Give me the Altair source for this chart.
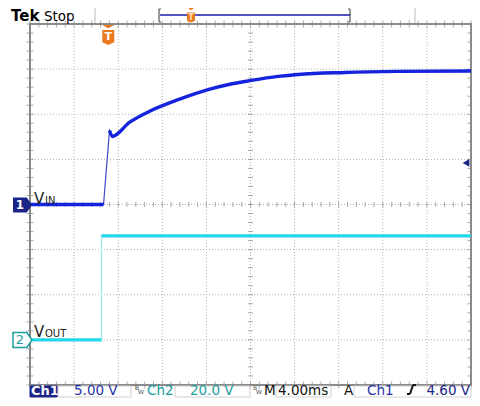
import altair as alt
import pandas as pd

# ---- scope settings (from the status bar) ----
# time base 4.00 ms/div, 10 divisions -> 0..40 ms across the screen
# Ch1 (VIN): 5.00 V/div, ground marker at division 4 from bottom
# Ch2 (VOUT): 20.0 V/div, ground marker at division 1 from bottom
ch1_ground_div = 4
ch2_ground_div = 1
ch1_vdiv = 5.0
ch2_vdiv = 20.0
trigger_level = 4.60
trigger_time = 7.1

# ---- traces ----
vin_t = [0.0, 6.67, 7.21, 7.48, 9.01, 10.81, 13.51, 16.22, 18.02, 20.09, 22.52, 24.32, 28.56, 33.33, 40.0]
vin_v = [0.0, 0.0, 8.20, 7.54, 9.09, 10.31, 11.64, 12.75, 13.30, 13.75, 14.19, 14.41, 14.63, 14.75, 14.80]
vout_t = [0.0, 6.49, 6.49, 40.0]
vout_v = [0.0, 0.0, 46.1, 46.1]

grid_x = [4, 8, 12, 16, 20, 24, 28, 32, 36]
grid_y = [1, 2, 3, 4, 5, 6, 7]
minor_x = [i * 0.8 for i in range(51)]
minor_y = [i * 0.2 for i in range(41)]

vin = pd.DataFrame({"t": vin_t, "v": vin_v, "i": range(len(vin_t))})
vout = pd.DataFrame({"t": vout_t, "v": vout_v, "i": range(len(vout_t))})
one = pd.DataFrame({"k": [0]})

XS = alt.Scale(domain=[0, 40], nice=False, zero=False)
YS = alt.Scale(domain=[0, 8], nice=False, zero=False)
X = alt.X("t:Q", scale=XS, axis=None)
Y = alt.Y("d:Q", scale=YS, axis=None)

BLUE = "#1424dc"
CYAN = "#22d8e8"
NAVY = "#1c2488"
TEAL = "#1e9e9e"
ORANGE = "#ea7a1e"
FONT = "DejaVu Sans"
W = 441
H = 361


def txt(s, x, y, size=13, color="#000", weight="normal", align="left", baseline="alphabetic"):
    return alt.Chart(one).mark_text(text=s, fontSize=size, color=color, fontWeight=weight,
                                    align=align, baseline=baseline, font=FONT).encode(
        x=alt.value(x), y=alt.value(y))


def rule(x1, y1, x2, y2, color="#888", sw=1):
    return alt.Chart(one).mark_rule(color=color, strokeWidth=sw).encode(
        x=alt.value(x1), x2=alt.value(x2), y=alt.value(y1), y2=alt.value(y2))


def box(x1, y1, x2, y2, fill="#ffffff", stroke="#d0d0d0", sw=1):
    return alt.Chart(one).mark_rect(fill=fill, stroke=stroke, strokeWidth=sw).encode(
        x=alt.value(x1), x2=alt.value(x2), y=alt.value(y1), y2=alt.value(y2))


def sym(path, x, y, size, fill=None, stroke=None, sw=1):
    if fill:
        m = alt.Chart(one).mark_point(shape=path, size=size, filled=True, fill=fill,
                                      stroke=stroke or fill, strokeWidth=sw if stroke else 0.01, opacity=1)
    else:
        m = alt.Chart(one).mark_point(shape=path, size=size, filled=False,
                                      stroke=stroke, strokeWidth=sw, opacity=1)
    return m.encode(x=alt.value(x), y=alt.value(y))


# ---- graticule ----
gx = alt.Chart(pd.DataFrame({"t": grid_x})).mark_rule(color="#b0b0b0", strokeDash=[1, 2], strokeWidth=1).encode(x=X)
gy = alt.Chart(pd.DataFrame({"d": grid_y})).mark_rule(color="#b0b0b0", strokeDash=[1, 2], strokeWidth=1).encode(y=Y)
cx = alt.Chart(pd.DataFrame({"t": minor_x, "d": [4] * len(minor_x)})).mark_tick(
    orient="vertical", size=5, thickness=1, color="#888").encode(x=X, y=Y)
cy = alt.Chart(pd.DataFrame({"d": minor_y, "t": [20] * len(minor_y)})).mark_tick(
    orient="horizontal", size=5, thickness=1, color="#888").encode(x=X, y=Y)
bt = alt.Chart(pd.DataFrame({"t": minor_x + minor_x, "d": [8] * len(minor_x) + [0] * len(minor_x)})).mark_tick(
    orient="vertical", size=7, thickness=1, color="#888").encode(x=X, y=Y)
bl = alt.Chart(pd.DataFrame({"d": minor_y + minor_y, "t": [0] * len(minor_y) + [40] * len(minor_y)})).mark_tick(
    orient="horizontal", size=7, thickness=1, color="#888").encode(x=X, y=Y)

# ---- traces ----
vin_base = alt.Chart(vin).transform_calculate(
    d=f"datum.v / {ch1_vdiv} + {ch1_ground_div}",
    seg="datum.t < 7 ? 'a' : 'b'")
vin_thin = vin_base.mark_line(color="#3a48c8", strokeWidth=1.2).encode(x=X, y=Y, order="i:Q")
vin_thick = vin_base.transform_filter("datum.t < 6.7 || datum.t > 7.2").mark_line(
    color=BLUE, strokeWidth=3.4, interpolate="monotone").encode(x=X, y=Y, detail="seg:N", order="i:Q")

vout_base = alt.Chart(vout).transform_calculate(
    d=f"datum.v / {ch2_vdiv} + {ch2_ground_div}",
    seg="datum.i < 2 ? 'a' : 'b'")
vout_thin = vout_base.mark_line(color="#9ae8f0", strokeWidth=1.2).encode(x=X, y=Y, order="i:Q")
vout_thick = vout_base.mark_line(color=CYAN, strokeWidth=3.2).encode(
    x=X, y=Y, detail="seg:N", order="i:Q")

# ---- channel markers ----
arrow = "M-1,-0.79 L0.45,-0.79 L1,0 L0.45,0.79 L-1,0.79 Z"
m1 = sym(arrow, -7.5, 181, 361, fill=NAVY)
m1t = txt("1", -10, 181, size=12, color="#ffffff", weight="bold", align="center", baseline="middle")
m2 = sym(arrow, -7.5, 316, 361, fill="#ffffff", stroke=TEAL, sw=1.5)
m2t = txt("2", -10, 316, size=13, color=TEAL, weight="normal", align="center", baseline="middle")
vin_l1 = txt("V", 4, 180, size=15, color="#222")
vin_l2 = txt("IN", 15, 180, size=10, color="#222")
vout_l1 = txt("V", 4, 313, size=15, color="#222")
vout_l2 = txt("OUT", 15, 313, size=10, color="#222")

# trigger level arrow on the right edge
trig_y = ch1_ground_div + trigger_level / ch1_vdiv
tl = alt.Chart(pd.DataFrame({"d": [trig_y]})).mark_point(
    shape="triangle-left", size=60, filled=True, fill=NAVY, strokeWidth=0.01, opacity=1).encode(
    x=alt.value(W - 5), y=Y)

# trigger position marker (orange "T")
tpos = pd.DataFrame({"t": [trigger_time]})
shield = "M-1,-1.25 L1,-1.25 L1,0.8 L0,1.25 L-1,0.8 Z"
t_tri = alt.Chart(tpos).mark_point(shape="M-1,-0.25 L1,-0.25 L0,0.3 Z", size=144, filled=True,
                                   fill=ORANGE, strokeWidth=0.01, opacity=1).encode(x=X, y=alt.value(2.5))
t_sh = alt.Chart(tpos).mark_point(shape=shield, size=144, filled=True, fill=ORANGE,
                                  strokeWidth=0.01, opacity=1).encode(x=X, y=alt.value(13.5))
t_tx = alt.Chart(tpos).mark_text(text="T", fontSize=11, fontWeight="bold", color="#ffffff",
                                 font=FONT, baseline="middle").encode(x=X, y=alt.value(12.5))

# ---- top bar ----
top = [
    txt("Tek", -19, -3, size=15, weight="bold"),
    txt("Stop", 14, -3, size=13.5),
    rule(65, -16, 65, -1, color="#bdbdbd"),
    rule(385, -16, 385, -1, color="#bdbdbd"),
    rule(129, -15, 129, -2, color="#555", sw=1.2),
    rule(129, -15, 131, -15, color="#555", sw=1),
    rule(129, -2, 131, -2, color="#555", sw=1),
    rule(320, -15, 320, -2, color="#555", sw=1.2),
    rule(318, -15, 320, -15, color="#555", sw=1),
    rule(318, -2, 320, -2, color="#555", sw=1),
    rule(130, -9, 320, -9, color="#1c1ca8", sw=1.3),
    sym("M-1,-0.6 L1,-0.6 L0,0.2 Z", 161, -14.5, 64, fill=ORANGE),
    sym(shield, 161, -6.5, 64, fill=ORANGE),
    txt("T", 161, -6.5, size=8, color="#ffe0c0", weight="bold", align="center", baseline="middle"),
]

# ---- status bar ----
SB = 371
status = [
    box(28, 362, 101, 373),
    box(145, 362, 220, 373),
    box(246, 362, 301, 373),
    box(324, 362, W, 373),
    box(0, 362, 27, 373, fill=NAVY, stroke=NAVY),
    txt("Ch1", 1, SB, size=13, color="#ffffff", weight="bold"),
    txt("5.00 V", 44, SB, size=13.5, color="#2434a8"),
    txt("B", 105, 366, size=6, color="#555"),
    txt("W", 108, 370, size=6, color="#555"),
    txt("Ch2", 117, SB, size=13.5, color=TEAL),
    txt("20.0 V", 160, SB, size=13.5, color=TEAL),
    txt("B", 223, 366, size=6, color="#555"),
    txt("W", 226, 370, size=6, color="#555"),
    txt("M", 234, SB, size=13.5, color="#111"),
    txt("4.00ms", 248, SB, size=13.5, color="#111"),
    txt("A", 314, SB, size=13.5, color="#111"),
    txt("Ch1", 337, SB, size=13.5, color="#2434a8"),
    rule(377, 370, 380, 370, color="#111", sw=2),
    rule(380, 370, 383, 361, color="#111", sw=2),
    rule(383, 361, 386, 361, color="#111", sw=2),
    txt("4.60 V", W - 1, SB, size=13.5, color="#1c2488", align="right"),
]

chart = alt.layer(
    gx, gy, cx, cy, bt, bl,
    vout_thin, vout_thick, vin_thin, vin_thick,
    m1, m1t, m2, m2t, vin_l1, vin_l2, vout_l1, vout_l2,
    tl, t_tri, t_sh, t_tx,
    *top, *status,
).properties(
    width=W, height=H,
    padding={"left": 22, "top": 16, "right": 1, "bottom": 13},
    autosize=alt.AutoSizeParams(type="none"),
    background="#ffffff",
).configure_view(stroke="#8a8a8a", strokeWidth=2)

chart.save("out.html", embed_options={"renderer": "svg", "actions": False})
